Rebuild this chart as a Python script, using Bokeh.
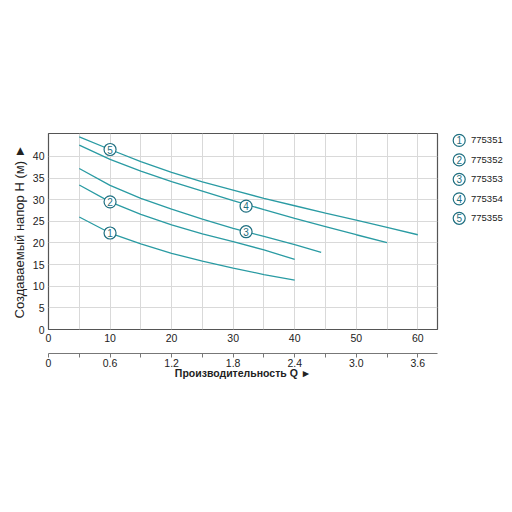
from bokeh.plotting import figure
from bokeh.models import Range1d, LinearAxis, FixedTicker, Label, ColumnDataSource
from bokeh.layouts import row
from bokeh.embed import file_html
from bokeh.resources import INLINE

# flow Q (l/min) and head H (m)
q1 = [5, 10, 15, 20, 25, 30, 35, 40]
h1 = [26.0, 22.3, 19.8, 17.6, 15.8, 14.2, 12.7, 11.4]
q2 = [5, 10, 15, 20, 25, 30, 35, 40]
h2 = [33.4, 29.5, 26.6, 24.2, 22.1, 20.3, 18.4, 16.2]
q3 = [5, 10, 15, 20, 25, 30, 35, 40, 44.3]
h3 = [37.2, 33.3, 30.3, 27.8, 25.5, 23.4, 21.5, 19.6, 17.8]
q4 = [5, 10, 15, 20, 25, 30, 35, 40, 45, 50, 55]
h4 = [42.6, 39.3, 36.6, 34.2, 32.0, 29.8, 27.7, 25.7, 23.8, 21.9, 20.1]
q5 = [5, 10, 15, 20, 25, 30, 35, 40, 45, 50, 55, 60]
h5 = [44.5, 41.6, 38.8, 36.3, 34.1, 32.2, 30.3, 28.6, 26.9, 25.3, 23.6, 21.9]

# numbered markers on the curves
mark_num = ["1", "2", "3", "4", "5"]
mark_q = [10, 10, 32.1, 32.1, 10]
mark_h = [22.3, 29.5, 22.6, 28.5, 41.6]

models = ["775351", "775352", "775353", "775354", "775355"]

y_ticks = [0, 5, 10, 15, 20, 25, 30, 35, 40]
x_ticks = [0, 10, 20, 30, 40, 50, 60]
m3h_labels = ["0", "0.6", "1.2", "1.8", "2.4", "3.0", "3.6"]

LINE = "#2a9ba3"
DARK = "#1f6f80"
FONT = "Liberation Sans"

p = figure(width=448, height=496, x_range=Range1d(0, 63.2), y_range=Range1d(0, 45.3),
           output_backend="svg", toolbar_location=None,
           min_border_left=48, min_border_top=133, min_border_right=11, min_border_bottom=167)
p.outline_line_color = "#555555"
p.outline_line_width = 1.2

p.xaxis.ticker = FixedTicker(ticks=x_ticks, minor_ticks=[5, 15, 25, 35, 45, 55])
p.yaxis.ticker = FixedTicker(ticks=y_ticks)
p.xgrid.ticker = FixedTicker(ticks=[5, 10, 15, 20, 25, 30, 35, 40, 45, 50, 55, 60])
p.ygrid.ticker = FixedTicker(ticks=y_ticks)
p.grid.grid_line_color = "#d9d9d9"
p.grid.grid_line_width = 1

for ax in (p.xaxis[0], p.yaxis[0]):
    ax.axis_line_color = None
    ax.major_tick_line_color = None
    ax.minor_tick_line_color = None
    ax.major_tick_out = 0
    ax.minor_tick_out = 0
    ax.major_label_text_font = FONT
    ax.major_label_text_font_size = "10.5px"
    ax.major_label_text_color = "#222222"
    ax.major_label_standoff = 4

# spacer label keeps the second axis line a little lower
p.xaxis.axis_label = " "
p.xaxis.axis_label_text_font_size = "5px"
p.xaxis.axis_label_standoff = 0

p.yaxis.axis_label = "Создаваемый напор H (м) ►"
p.yaxis.axis_label_text_font = FONT
p.yaxis.axis_label_text_font_size = "13px"
p.yaxis.axis_label_text_font_style = "normal"
p.yaxis.axis_label_text_color = "#222222"
p.yaxis.axis_label_standoff = 3

ax2 = LinearAxis(ticker=FixedTicker(ticks=x_ticks, minor_ticks=[5, 15, 25, 35, 45, 55]),
                 major_label_overrides={t: s for t, s in zip(x_ticks, m3h_labels)})
ax2.axis_line_color = "#777777"
ax2.major_tick_line_color = "#777777"
ax2.minor_tick_line_color = "#777777"
ax2.major_tick_in = 0
ax2.major_tick_out = 4
ax2.minor_tick_in = 0
ax2.minor_tick_out = 4
ax2.major_label_text_font = FONT
ax2.major_label_text_font_size = "10.5px"
ax2.major_label_text_color = "#222222"
ax2.major_label_standoff = 1
ax2.axis_label = "Производительность Q ►"
ax2.axis_label_text_font = FONT
ax2.axis_label_text_font_size = "10.5px"
ax2.axis_label_text_font_style = "bold"
ax2.axis_label_text_color = "#222222"
ax2.axis_label_standoff = -3
p.add_layout(ax2, "below")

for qs, hs in [(q1, h1), (q2, h2), (q3, h3), (q4, h4), (q5, h5)]:
    p.line(qs, hs, line_color=LINE, line_width=1.3)

src = ColumnDataSource(dict(x=mark_q, y=mark_h, t=mark_num))
p.scatter("x", "y", source=src, size=12, fill_color="white", line_color=DARK, line_width=1.2)
p.text("x", "y", text="t", source=src, text_align="center", text_baseline="middle",
       text_font_size="10px", text_color=DARK)

# legend on a narrow side figure sharing the head axis
leg_h = [43.7, 39.2, 34.7, 30.2, 25.7]
q = figure(width=56, height=496, x_range=Range1d(0, 56), y_range=p.y_range,
           output_backend="svg", toolbar_location=None,
           min_border_left=0, min_border_right=0, min_border_top=133, min_border_bottom=167)
q.axis.visible = False
q.grid.visible = False
q.outline_line_color = None
lsrc = ColumnDataSource(dict(x=[10.7] * len(models), tx=[22.5] * len(models), y=leg_h,
                             n=mark_num, m=models))
q.scatter("x", "y", source=lsrc, size=12, fill_color="white", line_color=DARK, line_width=1.2)
q.text("x", "y", text="n", source=lsrc, text_align="center", text_baseline="middle",
       text_font_size="10px", text_color=DARK)
q.text("tx", "y", text="m", source=lsrc, text_align="left", text_baseline="middle",
       text_font_size="9.5px", text_color="#222222")
for txt, yy in [("л/мин", -2.9), ("м³/ч", -7.5)]:
    q.add_layout(Label(x=7, y=yy, text=txt, text_align="left", text_baseline="middle",
                       text_font_size="9px", text_color="#444444"))

layout = row(p, q)
open("out.html", "w").write(file_html(layout, INLINE))
